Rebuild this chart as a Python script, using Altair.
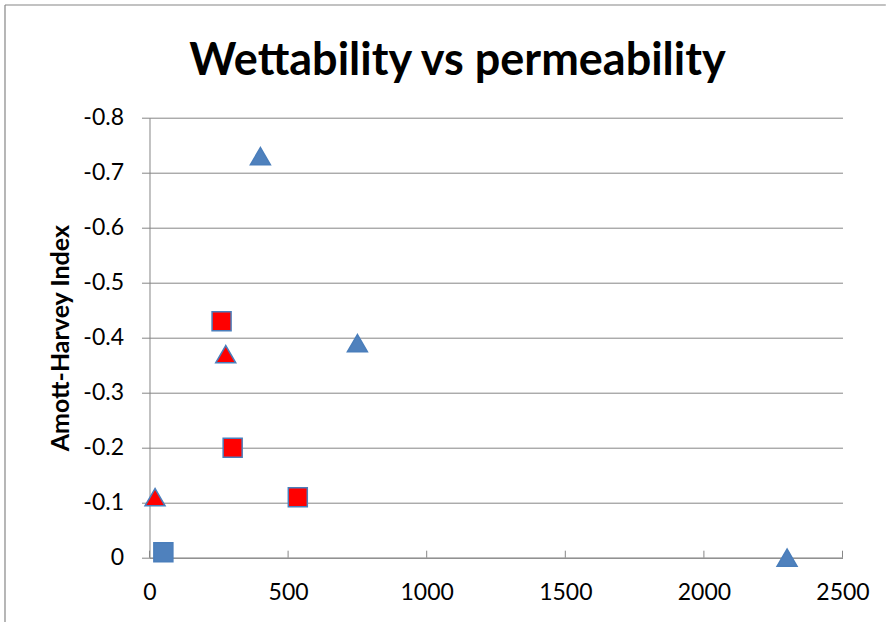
import altair as alt
import pandas as pd

# Amott-Harvey wettability index against permeability (mD), four sample groups
tri_blue_perm = [400, 750, 2300]
tri_blue_idx = [-0.73, -0.39, 0.0]
tri_red_perm = [275, 20]
tri_red_idx = [-0.37, -0.11]
sq_red_perm = [260, 300, 535]
sq_red_idx = [-0.43, -0.20, -0.11]
sq_blue_perm = [50]
sq_blue_idx = [-0.01]

x_ticks = [0, 500, 1000, 1500, 2000, 2500]
y_ticks = [-0.8, -0.7, -0.6, -0.5, -0.4, -0.3, -0.2, -0.1, 0.0]

TITLE = "Wettability vs permeability"
Y_TITLE = "Amott-Harvey Index"

BLUE = "#4F81BD"
EDGE = "#4A7EBB"
RED = "#FF0000"
GRAY = "#868686"
FONT = "Lato"

W, H = 693, 440
PAD = {"left": 149.5, "top": 117.7, "right": 43.3, "bottom": 64.3}

triangles = pd.concat([
    pd.DataFrame({"perm": tri_blue_perm, "idx": tri_blue_idx, "grp": "blue"}),
    pd.DataFrame({"perm": tri_red_perm, "idx": tri_red_idx, "grp": "red"}),
])
squares = pd.concat([
    pd.DataFrame({"perm": sq_red_perm, "idx": sq_red_idx, "grp": "red"}),
    pd.DataFrame({"perm": sq_blue_perm, "idx": sq_blue_idx, "grp": "blue"}),
])

xs = alt.Scale(domain=[0, 2500], nice=False, zero=False)
ys = alt.Scale(domain=[-0.8, 0], nice=False, reverse=True)
fill_scale = alt.Scale(domain=["blue", "red"], range=[BLUE, RED])

x_axis = alt.Axis(
    values=x_ticks, format="d", title=None, grid=False,
    ticks=False, tickSize=0, domainColor=GRAY, domainWidth=1,
    labelFont=FONT, labelFontSize=23, labelColor="black", labelPadding=24,
    labelFlush=False, labelOverlap=False,
)
y_axis = alt.Axis(
    values=y_ticks,
    labelExpr="abs(datum.value) < 1e-9 ? '0' : '-' + format(abs(datum.value), '.1f')",
    grid=True, gridColor=GRAY, gridWidth=1,
    ticks=True, tickSize=8, tickColor=GRAY, tickWidth=1,
    domainColor=GRAY, domainWidth=1,
    labelFont=FONT, labelFontSize=23, labelColor="black", labelPadding=18,
    labelFlush=False, labelOverlap=False,
    title=Y_TITLE, titleFont=FONT, titleFontSize=25, titleFontWeight="bold",
    titleColor="black", titleAngle=270, titleX=-88.5, titleY=H / 2,
    titleAlign="center", titleBaseline="middle",
)

X = alt.X("perm:Q", scale=xs, axis=x_axis)
Y = alt.Y("idx:Q", scale=ys, axis=y_axis)

tri_layer = alt.Chart(triangles).mark_point(
    shape="triangle-up", filled=True, opacity=1, size=400,
    stroke=EDGE, strokeWidth=1.5,
).encode(x=X, y=Y, fill=alt.Fill("grp:N", scale=fill_scale, legend=None))

sq_layer = alt.Chart(squares).mark_point(
    shape="square", filled=True, opacity=1, size=361,
    stroke=EDGE, strokeWidth=1.5,
).encode(x=X, y=Y, fill=alt.Fill("grp:N", scale=fill_scale, legend=None))

# x-axis ticks point inward (upward from the axis line)
x_tick_layer = alt.Chart(pd.DataFrame({"perm": x_ticks})).mark_rule(
    color=GRAY, strokeWidth=1
).encode(x=X, y=alt.value(H - 7), y2=alt.value(H))

one = pd.DataFrame({"t": [TITLE]})

title_layer = alt.Chart(one).mark_text(
    font=FONT, fontSize=45, fontWeight="bold", color="black",
    align="center", baseline="alphabetic",
).encode(text="t:N", x=alt.value(308), y=alt.value(-43))

# chart-area border along the left and top edges
frame_left = alt.Chart(one).mark_rule(color=GRAY, strokeWidth=1.2).encode(
    x=alt.value(-144.5), y=alt.value(-112.7), y2=alt.value(H + PAD["bottom"])
)
frame_top = alt.Chart(one).mark_rule(color=GRAY, strokeWidth=1.2).encode(
    x=alt.value(-144.5), x2=alt.value(W + PAD["right"]), y=alt.value(-112.7)
)

chart = alt.layer(
    x_tick_layer, tri_layer, sq_layer, title_layer, frame_left, frame_top
).properties(
    width=W, height=H,
    autosize=alt.AutoSizeParams(type="none"),
    padding=PAD,
    background="white",
).configure_view(stroke=None)

chart.save("out.html", embed_options={"renderer": "svg", "actions": False})
